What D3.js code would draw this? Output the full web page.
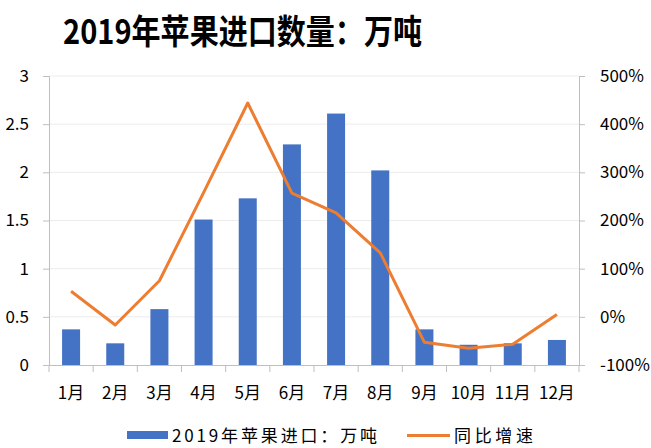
<!DOCTYPE html>
<html>
<head>
<meta charset="utf-8">
<script src="https://cdn.jsdelivr.net/npm/d3@7"></script>
<style>
  body { margin: 0; background: #fff; }
  text { font-family: "Noto Sans CJK SC", "Noto Sans", sans-serif; fill: #000; }
</style>
</head>
<body>
<svg id="chart" width="651" height="448"></svg>
<script>
var months = ["1月","2月","3月","4月","5月","6月","7月","8月","9月","10月","11月","12月"];
var imports = [0.37, 0.225, 0.58, 1.51, 1.73, 2.29, 2.61, 2.02, 0.37, 0.21, 0.225, 0.26];
var growth = [0.53, -0.17, 0.75, 2.58, 4.44, 2.57, 2.16, 1.33, -0.53, -0.65, -0.57, 0.05];
var leftTicks = [0, 0.5, 1, 1.5, 2, 2.5, 3];
var rightTicks = [-1, 0, 1, 2, 3, 4, 5];

var svg = d3.select("#chart");
var plotL = 49, plotR = 579, plotT = 76, plotB = 365;

var x = d3.scaleBand().domain(months).range([plotL, plotR]);
var yL = d3.scaleLinear().domain([0, 3]).range([plotB, plotT]);
var yR = d3.scaleLinear().domain([-1, 5]).range([plotB, plotT]);

// title
svg.append("text")
    .attr("x", 63).attr("y", 44)
    .attr("font-size", 34)
    .attr("font-weight", "bold")
    .attr("textLength", 359)
    .attr("lengthAdjust", "spacingAndGlyphs")
    .text("2019年苹果进口数量：万吨");

// gridlines
svg.append("g").selectAll("line")
    .data(leftTicks.slice(1))
    .enter().append("line")
    .attr("x1", plotL).attr("x2", plotR)
    .attr("y1", d => yL(d)).attr("y2", d => yL(d))
    .attr("stroke", "#ececec").attr("stroke-width", 1);

// axes
var axL = svg.append("g")
    .attr("transform", "translate(" + plotL + ",0)")
    .call(d3.axisLeft(yL).tickValues(leftTicks).tickSize(6).tickPadding(14).tickFormat(d3.format("")));
var axR = svg.append("g")
    .attr("transform", "translate(" + plotR + ",0)")
    .call(d3.axisRight(yR).tickValues(rightTicks).tickSize(6).tickPadding(15).tickFormat(d => Math.round(d * 100) + "%"));
var axB = svg.append("g")
    .attr("transform", "translate(0," + plotB + ")")
    .call(d3.axisBottom(x).tickSize(0).tickPadding(22));

// category boundary ticks
axB.selectAll(".bnd")
    .data(d3.range(months.length + 1))
    .enter().append("line")
    .attr("class", "bnd")
    .attr("x1", i => plotL + i * x.step()).attr("x2", i => plotL + i * x.step())
    .attr("y1", 0).attr("y2", 7)
    .attr("stroke", "#bfbfbf");

[axL, axR, axB].forEach(function (a) {
    a.select(".domain").attr("stroke", "#bfbfbf");
    a.selectAll(".tick line").attr("stroke", "#bfbfbf");
    a.selectAll("text").attr("font-size", 17).attr("fill", "#000")
        .style("font-family", "'Noto Sans CJK SC', sans-serif");
});

// bars
var bw = 18;
svg.append("g").selectAll("rect")
    .data(imports)
    .enter().append("rect")
    .attr("x", (d, i) => x(months[i]) + x.bandwidth() / 2 - bw / 2)
    .attr("y", d => yL(d))
    .attr("width", bw)
    .attr("height", d => plotB - yL(d))
    .attr("fill", "#4472c4");

// growth line
var line = d3.line()
    .x((d, i) => x(months[i]) + x.bandwidth() / 2)
    .y(d => yR(d));
svg.append("path")
    .datum(growth)
    .attr("d", line)
    .attr("fill", "none")
    .attr("stroke", "#ed7d31")
    .attr("stroke-width", 3)
    .attr("stroke-linejoin", "round");

// legend
var lg = svg.append("g");
lg.append("rect").attr("x", 127).attr("y", 431).attr("width", 41).attr("height", 8).attr("fill", "#4472c4");
lg.append("text").attr("x", 172).attr("y", 442).attr("font-size", 17)
    .attr("textLength", 205).attr("lengthAdjust", "spacing")
    .text("2019年苹果进口：万吨");
lg.append("line").attr("x1", 407).attr("x2", 450).attr("y1", 435.5).attr("y2", 435.5)
    .attr("stroke", "#ed7d31").attr("stroke-width", 3);
lg.append("text").attr("x", 454).attr("y", 442).attr("font-size", 17)
    .attr("textLength", 79).attr("lengthAdjust", "spacing")
    .text("同比增速");
</script>
</body>
</html>
